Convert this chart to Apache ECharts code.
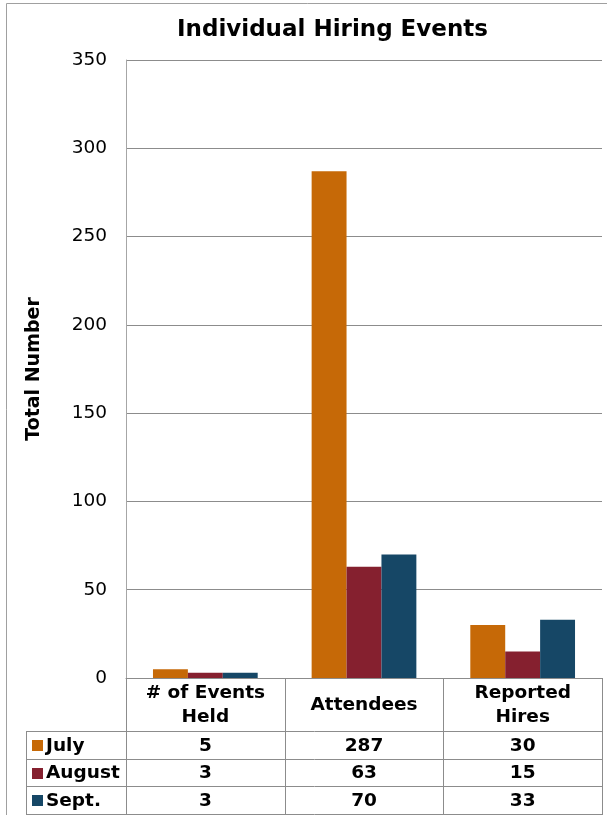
<!DOCTYPE html>
<html>
<head>
<meta charset="utf-8">
<script src="https://cdn.jsdelivr.net/npm/echarts@6/dist/echarts.min.js"></script>
<style>
  html, body { margin: 0; padding: 0; background: #fff; }
  #chart { width: 607px; height: 815px; }
</style>
</head>
<body>
<div id="chart"></div>
<script>
// Hiring event totals by month
var categories = ['# of Events\nHeld', 'Attendees', 'Reported\nHires'];
var months = ['July', 'August', 'Sept.'];
var july = [5, 287, 30];
var august = [3, 63, 15];
var sept = [3, 70, 33];
var monthColors = ['#C66907', '#85202F', '#164766'];

var seriesValues = [july, august, sept];

var FONT = 'DejaVu Sans';
var gridLineColor = '#8c8c8c';
var tableLineColor = '#8c8c8c';
var TABLE_FONT_SIZE = 18.5;

var chart = echarts.init(document.getElementById('chart'), null, { renderer: 'canvas' });

var grid = { left: 126, right: 5, top: 60, bottom: 137 };

chart.setOption({
  animation: false,
  backgroundColor: '#ffffff',
  title: {
    text: 'Individual Hiring Events',
    left: 172,
    top: 14,
    textStyle: { fontFamily: FONT, fontWeight: 'bold', fontSize: 23, color: '#000' }
  },
  grid: grid,
  xAxis: {
    type: 'category',
    data: categories,
    axisTick: { show: false },
    axisLine: { show: true, lineStyle: { color: tableLineColor, width: 1 } },
    axisLabel: {
      interval: 0,
      margin: 27,
      verticalAlign: 'middle',
      lineHeight: 24,
      fontFamily: FONT,
      fontWeight: 'bold',
      fontSize: TABLE_FONT_SIZE,
      color: '#000'
    }
  },
  yAxis: {
    type: 'value',
    min: 0,
    max: 350,
    interval: 50,
    name: 'Total Number',
    nameLocation: 'middle',
    nameGap: 82,
    nameTextStyle: { fontFamily: FONT, fontWeight: 'bold', fontSize: 19, color: '#000' },
    axisLine: { show: true, lineStyle: { color: '#a6a6a6', width: 1 } },
    axisTick: { show: false },
    axisLabel: { margin: 19, fontFamily: FONT, fontSize: 18.5, color: '#000' },
    splitLine: { show: true, lineStyle: { color: gridLineColor, width: 1 } }
  },
  series: months.map(function (m, i) {
    return {
      name: m,
      type: 'bar',
      data: seriesValues[i],
      barGap: '0%',
      barCategoryGap: '34%',
      itemStyle: { color: monthColors[i] }
    };
  })
});

// Data table drawn below the category axis
function buildTable() {
  var zeroY = chart.convertToPixel({ yAxisIndex: 0 }, 0);
  var plotLeft = grid.left;
  var plotRight = 607 - grid.right;
  var colW = (plotRight - plotLeft) / categories.length;
  var headerBottom = zeroY + 53;
  var rowH = 27.7;
  var tableLeft = 26;
  var tableBottom = headerBottom + rowH * months.length;
  var els = [];
  var lineStyle = { stroke: tableLineColor, lineWidth: 1 };

  // outer chart frame
  els.push({ type: 'rect', shape: { x: 6.5, y: 3.5, width: 640, height: 840 },
    style: { fill: null, stroke: '#a0a0a0', lineWidth: 1 }, silent: true });

  // vertical lines through the header and body
  for (var c = 0; c <= categories.length; c++) {
    var x = Math.round(plotLeft + c * colW) + 0.5;
    els.push({ type: 'line', shape: { x1: x, y1: zeroY, x2: x, y2: tableBottom }, style: lineStyle, silent: true });
  }
  els.push({ type: 'line', shape: { x1: tableLeft + 0.5, y1: headerBottom, x2: tableLeft + 0.5, y2: tableBottom }, style: lineStyle, silent: true });

  // horizontal row lines
  for (var r = 0; r <= months.length; r++) {
    var y = Math.round(headerBottom + r * rowH) + 0.5;
    els.push({ type: 'line', shape: { x1: tableLeft, y1: y, x2: plotRight + 1, y2: y }, style: lineStyle, silent: true });
  }

  // row headers with colour keys, and the values
  months.forEach(function (m, i) {
    var cy = headerBottom + (i + 0.5) * rowH;
    els.push({ type: 'rect', shape: { x: 32, y: Math.round(cy - 5), width: 11, height: 11 },
      style: { fill: monthColors[i] }, silent: true });
    els.push({ type: 'text', x: 46, y: cy + 1,
      style: { text: m, fontFamily: FONT, fontWeight: 'bold', fontSize: TABLE_FONT_SIZE, fill: '#000',
        textAlign: 'left', textVerticalAlign: 'middle' }, silent: true });
    seriesValues[i].forEach(function (v, j) {
      els.push({ type: 'text', x: plotLeft + (j + 0.5) * colW, y: cy + 1,
        style: { text: String(v), fontFamily: FONT, fontWeight: 'bold', fontSize: TABLE_FONT_SIZE, fill: '#000',
          textAlign: 'center', textVerticalAlign: 'middle' }, silent: true });
    });
  });

  chart.setOption({ graphic: { elements: els } });
}
buildTable();
</script>
</body>
</html>
